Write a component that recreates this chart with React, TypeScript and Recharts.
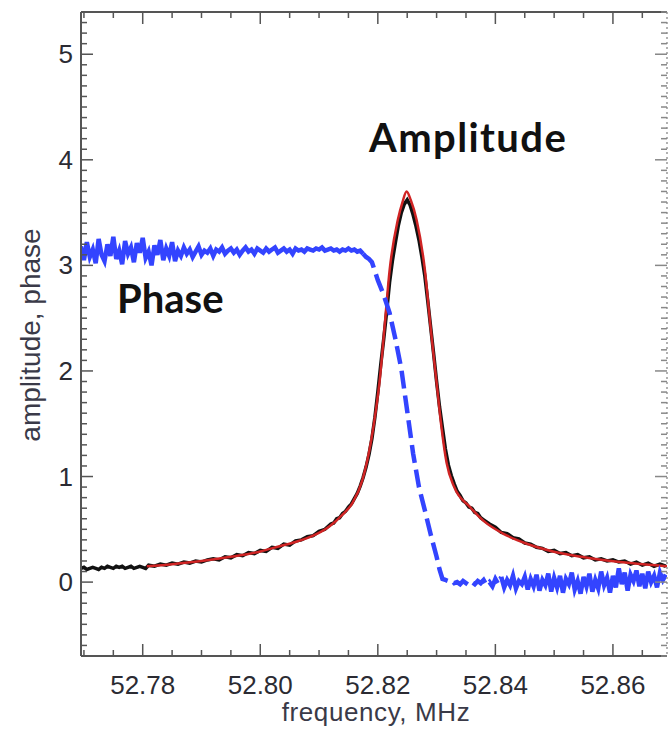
import React from 'react';
import { LineChart, Line, XAxis, YAxis } from 'recharts';

// ---------- axes ----------
const X_DOMAIN: [number, number] = [52.7695, 52.8692];
const Y_DOMAIN: [number, number] = [-0.7, 5.4];
const xMajorTicks = [52.78, 52.8, 52.82, 52.84, 52.86];
const xAllTicks = [
  52.770, 52.775, 52.780, 52.785, 52.790, 52.795, 52.800, 52.805, 52.810, 52.815,
  52.820, 52.825, 52.830, 52.835, 52.840, 52.845, 52.850, 52.855, 52.860, 52.865,
];
const yMajorTicks = [0, 1, 2, 3, 4, 5];
const yAllTicks: number[] = [];
for (let i = -7; i <= 54; i++) yAllTicks.push(i / 10);

const xTitle = 'frequency, MHz';
const yTitle = 'amplitude, phase';
const ampLabel = 'Amplitude';
const phaseLabel = 'Phase';

// ---------- measured amplitude (black) ----------
const ampFreq = [
  52.7695, 52.7700, 52.7705, 52.7710, 52.7715, 52.7720, 52.7725, 52.7730, 52.7735, 52.7740,
  52.7745, 52.7750, 52.7755, 52.7760, 52.7765, 52.7770, 52.7775, 52.7780, 52.7785, 52.7790,
  52.7795, 52.7800, 52.7805,
  52.781, 52.782, 52.783, 52.784, 52.785, 52.786, 52.787, 52.788, 52.789, 52.790,
  52.791, 52.792, 52.793, 52.794, 52.795, 52.796, 52.797, 52.798, 52.799, 52.800,
  52.801, 52.802, 52.803, 52.804, 52.805, 52.806, 52.807, 52.808, 52.809, 52.810,
  52.811, 52.812,
  52.8125, 52.8130, 52.8135, 52.8140, 52.8145, 52.8150, 52.8155, 52.8160, 52.8165, 52.8170,
  52.8175, 52.8180, 52.8185, 52.8190, 52.8195, 52.8200, 52.8205, 52.8210, 52.8215, 52.8220,
  52.8225, 52.8230, 52.8235, 52.8240, 52.8245, 52.8250, 52.8255, 52.8260, 52.8265, 52.8270,
  52.8275, 52.8280, 52.8285, 52.8290, 52.8295, 52.8300, 52.8305, 52.8310, 52.8315, 52.8320,
  52.8325, 52.8330, 52.8335, 52.8340, 52.8345, 52.8350, 52.8355, 52.8360, 52.8365, 52.8370,
  52.8375, 52.8380,
  52.839, 52.840, 52.841, 52.842, 52.843, 52.844, 52.845, 52.846, 52.847, 52.848,
  52.849, 52.850, 52.851, 52.852, 52.853, 52.854, 52.855, 52.856, 52.857, 52.858,
  52.859, 52.860, 52.861, 52.862, 52.863, 52.864, 52.865, 52.866, 52.867, 52.868,
  52.869,
];
const ampValue = [
  0.13, 0.14, 0.12, 0.13, 0.14, 0.13, 0.12, 0.14, 0.13, 0.15,
  0.14, 0.13, 0.15, 0.14, 0.15, 0.13, 0.14, 0.15, 0.13, 0.14,
  0.15, 0.14, 0.13,
  0.16, 0.15, 0.17, 0.16, 0.18, 0.17, 0.19, 0.18, 0.20, 0.19,
  0.21, 0.22, 0.21, 0.24, 0.23, 0.26, 0.25, 0.28, 0.27, 0.30,
  0.29, 0.33, 0.32, 0.36, 0.35, 0.39, 0.40, 0.43, 0.44, 0.48,
  0.50, 0.55,
  0.56, 0.60, 0.61, 0.65, 0.67, 0.71, 0.74, 0.79, 0.84, 0.91,
  0.99, 1.09, 1.21, 1.36, 1.56, 1.80, 2.06, 2.30, 2.56, 2.84,
  3.05, 3.22, 3.38, 3.50, 3.58, 3.62, 3.57, 3.48, 3.37, 3.24,
  3.08, 2.90, 2.66, 2.41, 2.16, 1.90, 1.66, 1.46, 1.26, 1.11,
  1.01, 0.93, 0.86, 0.82, 0.77, 0.75, 0.71, 0.70, 0.66, 0.65,
  0.61, 0.59,
  0.55, 0.52, 0.47, 0.46, 0.42, 0.41, 0.37, 0.36, 0.33, 0.32,
  0.29, 0.30, 0.27, 0.28, 0.25, 0.26, 0.23, 0.24, 0.21, 0.22,
  0.20, 0.21, 0.19, 0.20, 0.17, 0.19, 0.16, 0.18, 0.15, 0.17,
  0.15,
];

// ---------- fitted curve (red) ----------
const fitFreq = [
  52.7807, 52.785, 52.790, 52.795, 52.800, 52.8033, 52.806, 52.809, 52.8118, 52.814,
  52.8157, 52.8174, 52.8189, 52.8196, 52.8203, 52.8212, 52.8220, 52.8234, 52.8242, 52.8249,
  52.8256, 52.8266, 52.8280, 52.8290, 52.8300, 52.8308, 52.8317, 52.8330, 52.8357, 52.838,
  52.8413, 52.845, 52.8498, 52.854, 52.8583, 52.863, 52.8692,
];
const fitValue = [
  0.15, 0.17, 0.20, 0.24, 0.29, 0.34, 0.38, 0.44, 0.53, 0.64,
  0.75, 0.97, 1.35, 1.60, 1.90, 2.45, 2.95, 3.43, 3.60, 3.70,
  3.62, 3.43, 2.96, 2.40, 1.89, 1.48, 1.13, 0.90, 0.71, 0.58,
  0.46, 0.37, 0.29, 0.245, 0.21, 0.18, 0.15,
];

// ---------- phase (blue) ----------
const phaseFreq = [
  52.7695, 52.7700, 52.7705, 52.7710, 52.7715, 52.7720, 52.7725, 52.7730, 52.7735, 52.7740,
  52.7745, 52.7750, 52.7755, 52.7760, 52.7765, 52.7770, 52.7775, 52.7780, 52.7785, 52.7790,
  52.7795, 52.7800, 52.7805, 52.7810, 52.7815, 52.7820, 52.7825, 52.7830, 52.7835, 52.7840,
  52.7845, 52.7850, 52.7855,
  52.7860, 52.7865, 52.7870, 52.7875, 52.7880, 52.7885, 52.7890, 52.7895, 52.7900, 52.7905,
  52.7910, 52.7915, 52.7920, 52.7925, 52.7930, 52.7935, 52.7940, 52.7945, 52.7950, 52.7955,
  52.7960, 52.7965, 52.7970, 52.7975, 52.7980, 52.7985, 52.7990, 52.7995, 52.8000, 52.8005,
  52.8010, 52.8015, 52.8020, 52.8025, 52.8030, 52.8035, 52.8040, 52.8045, 52.8050, 52.8055,
  52.8060, 52.8065, 52.8070, 52.8075, 52.8080, 52.8085, 52.8090, 52.8095, 52.8100, 52.8105,
  52.8110, 52.8115, 52.8120, 52.8125, 52.8130, 52.8135, 52.8140, 52.8145, 52.8150, 52.8155,
  52.8160, 52.8165, 52.8170, 52.8175,
  52.8180, 52.8185, 52.8190, 52.8200, 52.8210, 52.8220, 52.8230, 52.8240, 52.8250, 52.8260,
  52.8270, 52.8280, 52.8290, 52.8300, 52.8305, 52.8310,
  52.8315, 52.8320, 52.8325, 52.8330, 52.8335, 52.8340, 52.8345, 52.8350, 52.8355, 52.8360,
  52.8365, 52.8370, 52.8375, 52.8380, 52.8385, 52.8390, 52.8395, 52.8400, 52.8405, 52.8410,
  52.8415, 52.8420, 52.8425, 52.8430, 52.8435, 52.8440, 52.8445, 52.8450, 52.8455, 52.8460,
  52.8465, 52.8470, 52.8475, 52.8480, 52.8485, 52.8490, 52.8495, 52.8500, 52.8505, 52.8510,
  52.8515, 52.8520, 52.8525, 52.8530, 52.8535, 52.8540, 52.8545, 52.8550, 52.8555, 52.8560,
  52.8565, 52.8570, 52.8575, 52.8580, 52.8585, 52.8590, 52.8595, 52.8600, 52.8605, 52.8610,
  52.8615, 52.8620, 52.8625, 52.8630, 52.8635, 52.8640, 52.8645, 52.8650, 52.8655, 52.8660,
  52.8665, 52.8670, 52.8675, 52.8680, 52.8685, 52.8690,
];
const phaseValue = [
  3.18, 3.05, 3.22, 3.08, 3.15, 3.02, 3.25, 3.10, 3.04, 3.20,
  3.09, 3.27, 3.06, 3.14, 3.01, 3.23, 3.11, 3.17, 3.03, 3.21,
  3.12, 3.26, 3.07, 3.13, 3.00, 3.19, 3.10, 3.24, 3.05, 3.16,
  3.09, 3.22, 3.04,
  3.14, 3.09, 3.17, 3.11, 3.15, 3.08, 3.13, 3.18, 3.10, 3.14,
  3.12, 3.16, 3.09, 3.15, 3.13, 3.17, 3.11, 3.14, 3.16, 3.12,
  3.15, 3.10, 3.14, 3.17, 3.13, 3.15, 3.11, 3.16, 3.14, 3.12,
  3.16, 3.13, 3.15, 3.17, 3.12, 3.14, 3.16, 3.13, 3.15, 3.11,
  3.16, 3.14, 3.15, 3.13, 3.16, 3.15, 3.14, 3.16, 3.15, 3.17,
  3.14, 3.15, 3.16, 3.14, 3.15, 3.13, 3.15, 3.14, 3.16, 3.14,
  3.15, 3.13, 3.14, 3.11,
  3.08, 3.06, 3.03, 2.86, 2.72, 2.55, 2.30, 2.02, 1.62, 1.22,
  0.90, 0.68, 0.45, 0.24, 0.12, 0.03,
  0.02, 0.01, 0.02, -0.01, 0.00, -0.02, 0.01, -0.01, -0.03, 0.00,
  -0.02, 0.01, -0.01, 0.02, -0.03, 0.00, -0.04, 0.03, -0.02, 0.05,
  -0.05, 0.02, -0.03, 0.06, -0.06, 0.01, -0.02, 0.05, -0.07, 0.03,
  -0.04, 0.07, -0.08, 0.02, -0.03, 0.08, -0.09, 0.04, -0.05, 0.06,
  -0.10, 0.03, -0.02, 0.09, -0.07, 0.01, -0.11, 0.05, -0.04, 0.08,
  -0.09, 0.02, -0.06, 0.10, -0.03, 0.04, -0.10, 0.06, -0.05, 0.13,
  -0.02, 0.09, -0.08, 0.07, 0.01, 0.11, -0.04, 0.08, -0.06, 0.10,
  0.00, 0.06, -0.05, 0.09, 0.02, 0.07,
];
// the plateaus are drawn solid (dense noisy points), the jump and the start of the
// lower plateau show the dashed line style
const phaseDashFrom = 52.8175;
const phaseDashTo = 52.841;

const toRows = (fs: number[], vs: number[]) => fs.map((f, i) => ({ f, v: vs[i] }));
const ampRows = toRows(ampFreq, ampValue);
const fitRows = toRows(fitFreq, fitValue);
const phaseRows = toRows(phaseFreq, phaseValue);
const phaseUpper = phaseRows.filter((r) => r.f <= phaseDashFrom + 1e-9);
const phaseJump = phaseRows.filter((r) => r.f >= phaseDashFrom - 1e-9 && r.f <= phaseDashTo + 1e-9);
const phaseLower = phaseRows.filter((r) => r.f >= phaseDashTo - 1e-9);

// ---------- styling ----------
const W = 668;
const H = 733;
const AXIS = '#555';
const TXT = '#2b2b33';
const BLUE = '#3344ff';
const SANS = '"Liberation Sans", Arial, Helvetica, sans-serif';
const BOLD = 'Lato, "Open Sans", "Noto Sans", sans-serif';

const near = (v: number, list: number[]) => list.some((m) => Math.abs(m - v) < 1e-6);

function BottomTick(props: any) {
  const { x, y, payload } = props;
  const major = near(payload.value, xMajorTicks);
  return (
    <g>
      <line x1={x} x2={x} y1={y} y2={y - (major ? 12 : 6)} stroke={AXIS} strokeWidth={1.5} />
      {major && (
        <text x={x} y={y + 38} textAnchor="middle" fontSize={26} fill={TXT} fontFamily={SANS}>
          {payload.value.toFixed(2)}
        </text>
      )}
    </g>
  );
}

function TopTick(props: any) {
  const { x, y, payload } = props;
  const major = near(payload.value, xMajorTicks);
  return <line x1={x} x2={x} y1={y} y2={y + (major ? 12 : 6)} stroke={AXIS} strokeWidth={1.5} />;
}

function LeftTick(props: any) {
  const { x, y, payload } = props;
  const major = near(payload.value, yMajorTicks);
  return (
    <g>
      <line x1={x} x2={x + (major ? 12 : 6)} y1={y} y2={y} stroke={AXIS} strokeWidth={1.5} />
      {major && (
        <text x={x - 8} y={y + 9} textAnchor="end" fontSize={26} fill={TXT} fontFamily={SANS}>
          {String(Math.round(payload.value))}
        </text>
      )}
    </g>
  );
}

function RightTick(props: any) {
  const { x, y, payload } = props;
  const major = near(payload.value, yMajorTicks);
  return <line x1={x} x2={x - (major ? 12 : 6)} y1={y} y2={y} stroke="#888" strokeWidth={1.5} />;
}

export default function App() {
  return (
    <div style={{ position: 'absolute', left: 0, top: 0, width: W, height: H, background: '#fff' }}>
      <LineChart width={W} height={H} margin={{ top: 0, right: 0, bottom: 0, left: 0 }}>
        <XAxis
          xAxisId={0}
          type="number"
          dataKey="f"
          domain={X_DOMAIN}
          allowDataOverflow
          ticks={xAllTicks}
          interval={0}
          height={77}
          tickSize={0}
          tickMargin={0}
          tickLine={false}
          tick={<BottomTick />}
          axisLine={{ stroke: AXIS, strokeWidth: 2 }}
        />
        <XAxis
          xAxisId="top"
          orientation="top"
          type="number"
          dataKey="f"
          domain={X_DOMAIN}
          allowDataOverflow
          ticks={xAllTicks}
          interval={0}
          height={12}
          tickSize={0}
          tickMargin={0}
          tickLine={false}
          tick={<TopTick />}
          axisLine={{ stroke: AXIS, strokeWidth: 2 }}
        />
        <YAxis
          yAxisId={0}
          type="number"
          domain={Y_DOMAIN}
          allowDataOverflow
          ticks={yAllTicks}
          interval={0}
          width={81}
          tickSize={0}
          tickMargin={0}
          tickLine={false}
          tick={<LeftTick />}
          axisLine={{ stroke: AXIS, strokeWidth: 2 }}
        />
        <YAxis
          yAxisId="right"
          orientation="right"
          type="number"
          domain={Y_DOMAIN}
          allowDataOverflow
          ticks={yAllTicks}
          interval={0}
          width={1}
          tickSize={0}
          tickMargin={0}
          tickLine={false}
          tick={<RightTick />}
          axisLine={{ stroke: '#999', strokeWidth: 1.5, strokeDasharray: '2 3' }}
        />
        <Line
          data={ampRows}
          dataKey="v"
          xAxisId={0}
          yAxisId={0}
          type="linear"
          stroke="#111"
          strokeWidth={3.5}
          dot={false}
          isAnimationActive={false}
        />
        <Line
          data={fitRows}
          dataKey="v"
          xAxisId={0}
          yAxisId={0}
          type="monotone"
          stroke="#d02424"
          strokeWidth={2.5}
          dot={false}
          isAnimationActive={false}
        />
        <Line
          data={phaseUpper}
          dataKey="v"
          xAxisId={0}
          yAxisId={0}
          type="linear"
          stroke={BLUE}
          strokeWidth={4.5}
          dot={false}
          isAnimationActive={false}
        />
        <Line
          data={phaseJump}
          dataKey="v"
          xAxisId={0}
          yAxisId={0}
          type="linear"
          stroke={BLUE}
          strokeWidth={4.5}
          strokeDasharray="18 7"
          dot={false}
          isAnimationActive={false}
        />
        <Line
          data={phaseLower}
          dataKey="v"
          xAxisId={0}
          yAxisId={0}
          type="linear"
          stroke={BLUE}
          strokeWidth={4.5}
          dot={false}
          isAnimationActive={false}
        />
      </LineChart>
      <svg
        width={W}
        height={H}
        style={{ position: 'absolute', left: 0, top: 0, pointerEvents: 'none' }}
      >
        <text
          x={369}
          y={152}
          fontSize={40}
          fontWeight={700}
          letterSpacing={1.4}
          fill="#111"
          fontFamily={BOLD}
        >
          {ampLabel}
        </text>
        <text x={117} y={313} fontSize={40} fontWeight={700} fill="#111" fontFamily={BOLD}>
          {phaseLabel}
        </text>
        <text
          x={376}
          y={721}
          textAnchor="middle"
          fontSize={26}
          letterSpacing={0.6}
          fill="#3a3a48"
          fontFamily={SANS}
        >
          {xTitle}
        </text>
        <text
          x={0}
          y={0}
          transform="translate(40,335) rotate(-90)"
          textAnchor="middle"
          fontSize={28}
          fill="#3a3a48"
          fontFamily={SANS}
        >
          {yTitle}
        </text>
      </svg>
    </div>
  );
}
